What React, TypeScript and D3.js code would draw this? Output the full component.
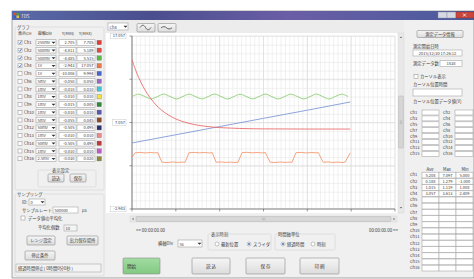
import React from "react";
import * as d3 from "d3";

const FONT = "'Noto Sans CJK JP', 'Noto Sans', sans-serif";

// ---- left panel: channel settings ----
const channels = ["Ch1", "Ch2", "Ch3", "Ch4", "Ch5", "Ch6", "Ch7", "Ch8", "Ch9", "Ch10", "Ch11", "Ch12", "Ch13", "Ch14", "Ch15", "Ch16"];
const shown = [true, true, true, true, false, false, false, false, false, false, false, false, false, false, false, false];
const divLabels = ["250mV", "500mV", "500mV", "1V", "1V", "5mV", "1mV", "1mV", "1mV", "1mV", "5mV", "50mV", "1mV", "50mV", "1mV", "2.5mV"];
const yMinLabels = ["2.705", "-4.811", "-4.485", "-2.943", "-10.006", "-0.050", "-0.010", "-0.010", "-0.015", "-0.010", "-0.055", "-0.505", "-0.010", "-0.505", "-0.010", "-0.030"];
const yMaxLabels = ["7.705", "5.189", "5.515", "17.057", "9.994", "0.050", "0.010", "0.010", "0.005", "0.010", "0.045", "0.495", "0.010", "0.495", "0.010", "0.020"];
const chColors = ["#e23b3b", "#e04848", "#58b848", "#f07848", "#4a64d0", "#9a6ac8", "#40c4d8", "#f0e040", "#2e8a3a", "#5a58b0", "#8a4a2a", "#2a3070", "#f08a8a", "#c03a3a", "#c05ac8", "#8a8a3a"];

// ---- graph scale ----
const yDomain = [-2.943, 17.057];
const yLabels = ["17.057", "7.057", "-2.943"];
const xDomain = [0, 6];

// ---- series (time in divisions, value in Ch4 scale) ----
const redSeries: [number, number][] = [
  [0, 14.3], [0.1, 12.9], [0.2, 11.74], [0.3, 10.79], [0.4, 10.01], [0.5, 9.36], [0.6, 8.82],
  [0.75, 8.19], [0.9, 7.72], [1.05, 7.36], [1.2, 7.1], [1.4, 6.84], [1.6, 6.67], [1.8, 6.55],
  [2.0, 6.47], [2.3, 6.4], [2.6, 6.35], [3.0, 6.32], [3.5, 6.31], [4.0, 6.3], [4.5, 6.3], [4.98, 6.3],
];
const greenStep = 0.145;
const greenValues = [
  10.06, 10.33, 10.07, 9.79, 10.05, 10.34, 10.06, 9.78, 10.07, 10.33, 10.05, 9.79,
  10.06, 10.34, 10.07, 9.78, 10.05, 10.33, 10.06, 9.79, 10.07, 10.34, 10.05, 9.78,
  10.06, 10.33, 10.07, 9.79, 10.05, 10.34, 10.06, 9.78, 10.07, 10.33, 10.06,
];
const blueSeries: [number, number][] = [[0, 4.69], [1, 5.64], [2, 6.59], [3, 7.54], [4, 8.48], [4.98, 9.43]];
const orangeSeries: [number, number][] = [
  [0, 3.05], [0.07, 3.55], [0.18, 3.6], [0.3, 3.54], [0.42, 3.59], [0.52, 3.55], [0.59, 3.57],
  [0.68, 2.47], [0.8, 2.43], [0.92, 2.49], [1.04, 2.44], [1.14, 2.48], [1.21, 2.45],
  [1.3, 3.56], [1.42, 3.6], [1.54, 3.55], [1.66, 3.59], [1.76, 3.54], [1.83, 3.57],
  [1.92, 2.46], [2.04, 2.5], [2.14, 2.44], [2.25, 2.48], [2.35, 2.43], [2.42, 2.47],
  [2.51, 3.57], [2.62, 3.61], [2.74, 3.55], [2.86, 3.59], [2.96, 3.54], [3.04, 3.58],
  [3.15, 2.47], [3.26, 2.43], [3.38, 2.49], [3.5, 2.44], [3.58, 2.48], [3.65, 2.45],
  [3.74, 3.56], [3.86, 3.6], [3.98, 3.54], [4.1, 3.59], [4.19, 3.55], [4.25, 3.57],
  [4.36, 2.46], [4.47, 2.5], [4.58, 2.44], [4.7, 2.48], [4.79, 2.43], [4.86, 2.47], [4.98, 3.55],
];

// ---- right panel ----
const statRows = [
  ["5.208", "7.097", "5.000"],
  ["0.188", "1.279", "-1.000"],
  ["1.015", "1.119", "1.008"],
  ["3.057", "3.613", "2.409"],
];

const T = (p: any) => (
  <text fontFamily={FONT} fontSize={p.size || 4.3} fill={p.fill || "#3a3a3a"} textAnchor={p.anchor || "start"} x={p.x} y={p.y}>
    {p.children}
  </text>
);

const Box = ({ x, y, w, h, text, align = "end", fill = "#fff" }: any) => (
  <g>
    <rect x={x} y={y} width={w} height={h} fill={fill} stroke="#a8a8a8" strokeWidth={0.6} />
    {text != null && (
      <T x={align === "end" ? x + w - 1.5 : align === "middle" ? x + w / 2 : x + 1.5} y={y + h - 1.3} size={4} anchor={align}>
        {text}
      </T>
    )}
  </g>
);

const Combo = ({ x, y, w, h, text }: any) => (
  <g>
    <rect x={x} y={y} width={w} height={h} fill="#fff" stroke="#a0a0a0" strokeWidth={0.6} />
    <T x={x + 1.5} y={y + h - 1.3} size={4}>{text}</T>
    <path d={`M${x + w - 4.5},${y + h / 2 - 0.8}l2,2l2,-2z`} fill="#333" />
  </g>
);

const Btn = ({ x, y, w, h, text, fill = "url(#btnGrad)", anchor = "middle", tx, size = 4.3 }: any) => (
  <g>
    <rect x={x} y={y} width={w} height={h} rx={1} fill={fill} stroke="#8e8e8e" strokeWidth={0.6} />
    <T x={tx != null ? tx : x + w / 2} y={y + h / 2 + 1.6} size={size} anchor={anchor}>{text}</T>
  </g>
);

const Check = ({ x, y, on }: any) => (
  <g>
    <rect x={x} y={y} width={4} height={4} fill="#fff" stroke="#8a8a8a" strokeWidth={0.5} />
    {on && <path d={`M${x + 0.8},${y + 2}l1.1,1.2l1.5,-2.6`} fill="none" stroke="#3a6fc0" strokeWidth={0.8} />}
  </g>
);

const Radio = ({ x, y, on }: any) => (
  <g>
    <circle cx={x} cy={y} r={2} fill="#fff" stroke="#8a8a8a" strokeWidth={0.5} />
    {on && <circle cx={x} cy={y} r={1} fill="#3a6fc0" />}
  </g>
);

const Group = ({ x, y, w, h, label, lx }: any) => (
  <g>
    <rect x={x} y={y} width={w} height={h} rx={1.5} fill="none" stroke="#d4d4d4" strokeWidth={0.6} />
    {label && (
      <g>
        <rect x={(lx ?? x + 2) - 0.5} y={y - 2} width={label.length * 4.3 + 1} height={4} fill="#f0f0f0" />
        <T x={lx ?? x + 2} y={y + 1.6}>{label}</T>
      </g>
    )}
  </g>
);

export default function App() {
  const x = d3.scaleLinear().domain(xDomain).range([132, 395]);
  const y = d3.scaleLinear().domain(yDomain).range([209, 36]);
  const line = d3.line<[number, number]>().x((d) => x(d[0])).y((d) => y(d[1]));
  const smooth = d3.line<[number, number]>().x((d) => x(d[0])).y((d) => y(d[1])).curve(d3.curveCatmullRom);
  const greenSeries: [number, number][] = greenValues.map((v, i) => [i * greenStep, v]);

  const minorX = d3.range(xDomain[0], xDomain[1] + 0.001, 0.1);
  const minorY = y.ticks(20);
  const majorX = x.ticks(6);
  const majorY = d3.range(0, 5).map((i) => yDomain[0] + i * 5);

  const rowY = (i: number) => 42.5 + i * 7.75;
  const curRowY = (i: number) => 110.5 + i * 5.9;
  const statY = (i: number) => 172 + i * 6.2;

  return (
    <div style={{ position: "fixed", left: 0, top: 0 }}>
      <svg width={474} height={279} style={{ display: "block", background: "#fff" }}>
        <defs>
          <linearGradient id="titleGrad" x1="0" x2="1" y1="0" y2="0">
            <stop offset="0" stopColor="#5a6aa8" />
            <stop offset="0.3" stopColor="#4a4e8e" />
            <stop offset="0.6" stopColor="#6a5ea6" />
            <stop offset="1" stopColor="#4a5a9c" />
          </linearGradient>
          <linearGradient id="btnGrad" x1="0" x2="0" y1="0" y2="1">
            <stop offset="0" stopColor="#f6f6f6" />
            <stop offset="1" stopColor="#dcdcdc" />
          </linearGradient>
          <linearGradient id="greenGrad" x1="0" x2="0" y1="0" y2="1">
            <stop offset="0" stopColor="#a2dca2" />
            <stop offset="1" stopColor="#82c882" />
          </linearGradient>
          <clipPath id="plotClip">
            <rect x={132} y={36} width={263} height={173} />
          </clipPath>
        </defs>

        {/* window */}
        <rect x={12} y={11} width={462} height={267} fill="#f0f0f0" stroke="#707070" strokeWidth={0.6} />
        <rect x={12} y={11} width={462} height={9} fill="url(#titleGrad)" />
        <rect x={14} y={13} width={2.5} height={2.5} fill="#e05030" />
        <rect x={16.5} y={13} width={2.5} height={2.5} fill="#40a040" />
        <rect x={14} y={15.5} width={2.5} height={2.5} fill="#3060d0" />
        <rect x={16.5} y={15.5} width={2.5} height={2.5} fill="#f0c030" />
        <T x={21} y={18} size={4.5} fill="#e8e8f0">TDS</T>
        <rect x={438} y={12} width={9} height={6} fill="#d6d8e2" stroke="#8088a0" strokeWidth={0.4} />
        <rect x={447} y={12} width={9} height={6} fill="#d6d8e2" stroke="#8088a0" strokeWidth={0.4} />
        <rect x={456} y={12} width={18} height={6} fill="#c8463c" stroke="#8a2a2a" strokeWidth={0.4} />
        <path d="M463,13.5l3,3M466,13.5l-3,3" stroke="#fff" strokeWidth={0.8} />

        {/* ---- left panel ---- */}
        <Group x={15} y={27} w={89} h={163} label="グラフ" />
        <T x={18} y={35} size={4}>表示CH</T>
        <T x={38} y={35} size={4}>縦軸Div</T>
        <T x={62} y={35} size={4}>Y(MIN)</T>
        <T x={79} y={35} size={4}>Y(MAX)</T>
        {channels.map((c, i) => {
          const cy = rowY(i);
          return (
            <g key={c}>
              <Check x={18} y={cy - 2} on={shown[i]} />
              <T x={24} y={cy + 1.5} size={4.2}>{c}</T>
              <Combo x={36} y={cy - 2.8} w={20} h={5.6} text={divLabels[i]} />
              <Box x={59} y={cy - 2.8} w={17} h={5.6} text={yMinLabels[i]} />
              <Box x={77} y={cy - 2.8} w={18} h={5.6} text={yMaxLabels[i]} />
              <rect x={97} y={cy - 2.2} width={4.4} height={4.4} fill={chColors[i]} stroke="#666" strokeWidth={0.3} />
            </g>
          );
        })}
        <Group x={38} y={170} w={58} h={17} label="表示設定" lx={52} />
        <Btn x={48} y={174} w={16} h={8} text="読込" />
        <Btn x={70} y={174} w={16} h={8} text="保存" />

        <Group x={15} y={194} w={89} h={82} label="サンプリング" />
        <T x={22} y={203.5}>ID:</T>
        <Combo x={29} y={199} w={16} h={6} text="0" />
        <T x={22} y={211.5}>サンプルレート</T>
        <Box x={53} y={207} w={25} h={6} text="500000" align="start" />
        <T x={82} y={211.5} size={4.2}>μs</T>
        <Check x={21} y={216} on={false} />
        <T x={28} y={219.6}>データ値の平均化</T>
        <T x={38} y={229.3}>平均化個数</T>
        <Box x={64} y={225} w={13} h={6} text="10" align="start" fill="#f4f4f4" />
        <Btn x={27} y={236} w={28} h={9} text="レンジ設定" />
        <Btn x={67} y={236} w={31} h={9} text="出力保存場所" />
        <Btn x={25} y={251} w={30} h={9} text="停止条件" />
        <Box x={16} y={264} w={85} h={8} fill="#f4f4f4" />
        <T x={18} y={269.8}>経過時間停止( 0時間0分0秒 )</T>

        {/* ---- chart panel ---- */}
        <rect x={105} y={20} width={299} height={13} fill="#ececec" />
        <rect x={106} y={33} width={292} height={180} fill="#fff" />
        <Combo x={108} y={23} w={20} h={7} text="Ch4" />
        <Btn x={137} y={23.5} w={18} h={8.5} text="" />
        <path d="M140,27.5c2,-3 4,-3 5.5,0s3.5,3 5.5,0" fill="none" stroke="#444" strokeWidth={0.8} />
        <Btn x={158} y={23.5} w={18} h={8.5} text="" />
        <path d="M161,27.8c2,-1.5 4,-1.5 5.5,0s3.5,1.5 5.5,0" fill="none" stroke="#444" strokeWidth={0.8} />

        {/* grid */}
        <g>
          {minorX.map((v, i) => (
            <line key={"mx" + i} x1={x(v)} x2={x(v)} y1={36} y2={209} stroke="#e8e8e8" strokeWidth={0.6} />
          ))}
          {minorY.map((v, i) => (
            <line key={"my" + i} x1={132} x2={395} y1={y(v)} y2={y(v)} stroke="#e8e8e8" strokeWidth={0.6} />
          ))}
          {majorX.map((v) => (
            <line key={"Mx" + v} x1={x(v)} x2={x(v)} y1={36} y2={209} stroke="#d8d8d8" strokeWidth={0.6} />
          ))}
          {majorY.map((v) => (
            <line key={"My" + v} x1={132} x2={395} y1={y(v)} y2={y(v)} stroke="#d8d8d8" strokeWidth={0.6} />
          ))}
        </g>
        {/* axes */}
        <line x1={132} x2={132} y1={36} y2={209} stroke="#555" strokeWidth={0.7} />
        <line x1={132} x2={395} y1={209} y2={209} stroke="#555" strokeWidth={0.7} />
        {majorY.map((v) => (
          <line key={"ty" + v} x1={129.5} x2={132} y1={y(v)} y2={y(v)} stroke="#555" strokeWidth={0.6} />
        ))}
        {majorX.map((v) => (
          <line key={"tx" + v} x1={x(v)} x2={x(v)} y1={209} y2={211.5} stroke="#555" strokeWidth={0.6} />
        ))}
        {yLabels.map((l) => {
          const yy = y(+l);
          const w = l.length * 2.3 + 2;
          return (
            <g key={l}>
              <rect x={126 - w} y={yy - 2.8} width={w} height={5.6} fill="#fff" stroke="#c8c8c8" strokeWidth={0.5} />
              <T x={125} y={yy + 1.4} size={4} anchor="end">{l}</T>
            </g>
          );
        })}

        {/* series */}
        <g clipPath="url(#plotClip)" fill="none" strokeWidth={0.85}>
          <path d={smooth(greenSeries) || ""} stroke="#86cc6a" />
          <path d={line(blueSeries) || ""} stroke="#7a96d4" />
          <path d={line(orangeSeries) || ""} stroke="#f49468" />
          <path d={smooth(redSeries) || ""} stroke="#ea6466" />
        </g>

        {/* vertical scrollbar */}
        <rect x={398} y={33} width={6} height={180} fill="#e8e8e8" stroke="#d0d0d0" strokeWidth={0.4} />
        <path d="M399.8,38l1.2,-1.5l1.2,1.5z" fill="#666" />
        <path d="M399.8,207l1.2,1.5l1.2,-1.5z" fill="#666" />
        <rect x={398.6} y={96} width={4.8} height={52} rx={0.8} fill="#d6d6d6" stroke="#a8a8a8" strokeWidth={0.4} />
        <path d="M399.8,121h2.4M399.8,122.2h2.4M399.8,123.4h2.4" stroke="#888" strokeWidth={0.3} />

        {/* horizontal scrollbar */}
        <rect x={130} y={216} width={267} height={6} fill="#e8e8e8" stroke="#d0d0d0" strokeWidth={0.4} />
        <path d="M133.5,217.8l-1.5,1.2l1.5,1.2z" fill="#666" />
        <path d="M393.5,217.8l1.5,1.2l-1.5,1.2z" fill="#666" />
        <rect x={136} y={216.6} width={255} height={4.8} rx={0.8} fill="#d8d8d8" stroke="#a8a8a8" strokeWidth={0.4} />
        <path d="M262.5,217.8v2.4M263.7,217.8v2.4M264.9,217.8v2.4" stroke="#888" strokeWidth={0.3} />

        <T x={136} y={232} size={4.4}>{"<<  00:00:00.00"}</T>
        <T x={398} y={232} size={4.4} anchor="end">{"00:00:00.00  >>"}</T>

        <T x={158} y={245}>横軸Div</T>
        <Combo x={178} y={240} w={24} h={7} text="5s" />
        <Group x={208} y={234} w={63} h={16} label="表示時刻" lx={211} />
        <Radio x={217} y={244} on={false} />
        <T x={221} y={245.6}>最新位置</T>
        <Radio x={249} y={244} on={true} />
        <T x={253} y={245.6}>スライダ</T>
        <Group x={275} y={234} w={60} h={16} label="時間軸単位" lx={278} />
        <Radio x={283} y={244} on={true} />
        <T x={287} y={245.6}>経過時間</T>
        <Radio x={313} y={244} on={false} />
        <T x={317} y={245.6}>時刻</T>

        <Btn x={123} y={258} w={37} h={16} text="開始" fill="url(#greenGrad)" anchor="start" tx={127} size={4.6} />
        <Btn x={192} y={258} w={38} h={16} text="読 込" size={4.6} />
        <Btn x={246} y={258} w={39} h={16} text="保 存" size={4.6} />
        <Btn x={300} y={258} w={39} h={16} text="印 刷" size={4.6} />

        {/* ---- right panel ---- */}
        <Btn x={417} y={30.5} w={46} h={7} text="測定データ情報" size={4.2} />
        <T x={413} y={47.5}>測定開始日時</T>
        <Box x={413} y={50} w={49} h={6} text="2015/12/30 17:26:12" align="middle" />
        <T x={413} y={65}>測定データ数</T>
        <Box x={440} y={60.5} w={22} h={6} text="1838" align="middle" />
        <Check x={414} y={74.5} on={false} />
        <T x={420} y={78.3}>カーソル表示</T>
        <T x={413} y={86.3}>カーソル位置時間</T>
        <Box x={413} y={89} w={49} h={7} />
        <T x={413} y={103.3}>カーソル位置データ値[V]</T>
        {d3.range(0, 8).map((r) => {
          const yy = curRowY(r) + 2;
          return (
            <g key={"cur" + r}>
              <T x={410} y={yy + 1.4} size={4}>{channels[r * 2]}</T>
              <Box x={422} y={yy - 2.5} w={17} h={5} />
              <T x={443} y={yy + 1.4} size={4}>{channels[r * 2 + 1]}</T>
              <Box x={455} y={yy - 2.5} w={18} h={5} />
            </g>
          );
        })}
        <T x={430} y={171} size={4.2} anchor="middle">Ave</T>
        <T x={447} y={171} size={4.2} anchor="middle">Max</T>
        <T x={465} y={171} size={4.2} anchor="middle">Min</T>
        {channels.map((c, i) => {
          const yy = statY(i) + 3;
          const vals = statRows[i] || ["", "", ""];
          return (
            <g key={"st" + c}>
              <T x={410} y={yy + 1.4} size={4}>{c}</T>
              <Box x={422} y={yy - 2.8} w={17} h={5.8} text={vals[0] || null} align="middle" />
              <Box x={439} y={yy - 2.8} w={17} h={5.8} text={vals[1] || null} align="middle" />
              <Box x={456} y={yy - 2.8} w={17} h={5.8} text={vals[2] || null} align="middle" />
            </g>
          );
        })}
      </svg>
    </div>
  );
}
